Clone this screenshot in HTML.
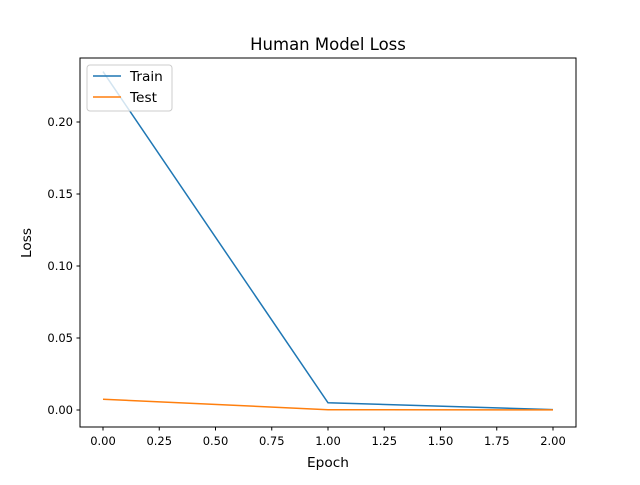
<!DOCTYPE html>
<html><head><meta charset="utf-8"><style>
body{margin:0;background:#fff;}
svg text{font-family:"DejaVu Sans","Liberation Sans",sans-serif;}
</style></head><body>
<svg width="640" height="480" xmlns="http://www.w3.org/2000/svg">
<rect width="640" height="480" fill="#fff"/>
<text x="328" y="50" font-size="16.5" text-anchor="middle">Human Model Loss</text>
<g id="axes"></g>
<rect x="80" y="58" width="496" height="369" fill="none" stroke="#000" stroke-width="1"/>
<text x="328" y="467" font-size="13.7" text-anchor="middle">Epoch</text>
<text x="31" y="243" font-size="13.7" text-anchor="middle" transform="rotate(-90 31 243)">Loss</text>
<g>
<rect x="87" y="65" width="85" height="46" rx="3" fill="#fff" fill-opacity="0.8" stroke="#ccc"/>
<line x1="93" y1="76" x2="121" y2="76" stroke="#1f77b4" stroke-width="1.5"/>
<text x="130" y="81" font-size="13.7">Train</text>
<line x1="93" y1="97" x2="121" y2="97" stroke="#ff7f0e" stroke-width="1.5"/>
<text x="130" y="102" font-size="13.7">Test</text>
</g>
</svg>
<script>
const epochs=[0,1,2];
const train=[0.235,0.005,0.0003];
const test=[0.0075,0.0002,0.0001];
const xTicks=[0,0.25,0.5,0.75,1,1.25,1.5,1.75,2];
const yTicks=[0,0.05,0.10,0.15,0.20];
const ns="http://www.w3.org/2000/svg";
const X=v=>103+v*225, Y=v=>410-v*1440;
const g=document.getElementById('axes');
function mk(t,a){const e=document.createElementNS(ns,t);for(const k in a)e.setAttribute(k,a[k]);g.appendChild(e);return e;}
xTicks.forEach(v=>{
 const l=mk('line',{x1:X(v),x2:X(v),y1:427,y2:430.5,stroke:'#000'});
 
 
 const t=mk('text',{x:X(v),y:445,'font-size':11.5,'text-anchor':'middle'});t.textContent=v.toFixed(2);
 
 
});
yTicks.forEach(v=>{
 const l=mk('line',{x1:76.5,x2:80,y1:Y(v),y2:Y(v),stroke:'#000'});
 
 
 const t=mk('text',{x:73,y:Y(v)+4,'font-size':11.5,'text-anchor':'end'});t.textContent=v.toFixed(2);
 
 
});
function line(d,c,n){const p=mk('polyline',{points:d.map((v,i)=>X(epochs[i])+','+Y(v)).join(' '),fill:'none',stroke:c,'stroke-width':1.5});
 
 }
line(train,'#1f77b4','train-line');
line(test,'#ff7f0e','test-line');
</script>
</body></html>
